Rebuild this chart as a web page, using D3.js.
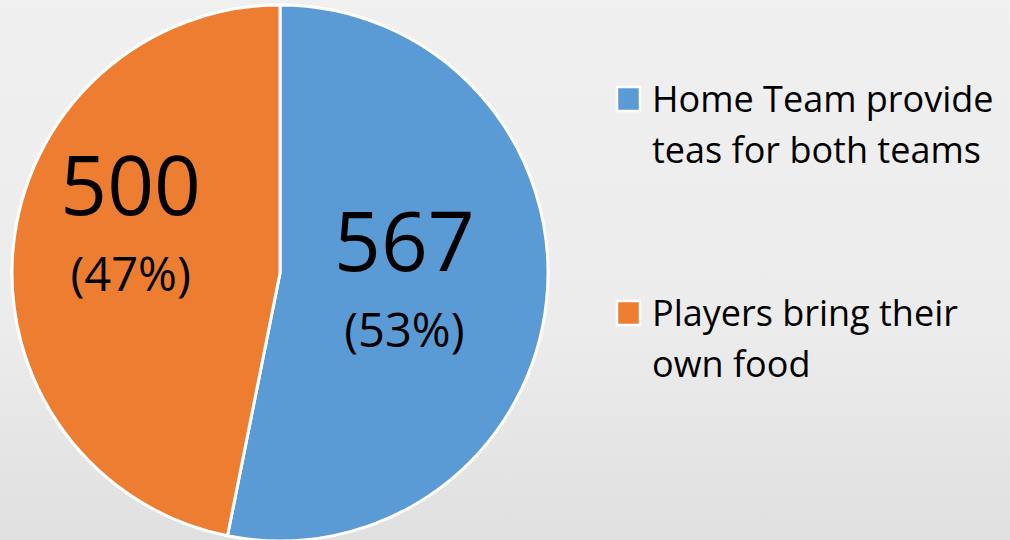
<!DOCTYPE html>
<html>
<head>
<meta charset="utf-8">
<script src="https://cdn.jsdelivr.net/npm/d3@7"></script>
<style>
  html, body { margin: 0; padding: 0; }
  body { width: 1010px; height: 540px; overflow: hidden; }
  svg { display: block; font-family: "Open Sans", "Noto Sans", sans-serif; }
</style>
</head>
<body>
<svg id="chart" width="1010" height="540"></svg>
<script>
// ---- data ----
const categories = ["Home Team provide teas for both teams", "Players bring their own food"];
const legendLines = [["Home Team provide", "teas for both teams"], ["Players bring their", "own food"]];
const values = [567, 500];
const colors = ["#5B9BD5", "#ED7D31"];

// ---- layout ----
const W = 1010, H = 540;
const cx = 280, cy = 273, R = 268;
const labelR = 122;
const labelOffsets = [[3, -4], [-28, -36]];

const svg = d3.select("#chart");

// background
const defs = svg.append("defs");
const bg = defs.append("linearGradient").attr("id", "bg").attr("x1", 0).attr("y1", 0).attr("x2", 0).attr("y2", 1);
bg.append("stop").attr("offset", "0%").attr("stop-color", "#f0f0f0");
bg.append("stop").attr("offset", "60%").attr("stop-color", "#ececec");
bg.append("stop").attr("offset", "100%").attr("stop-color", "#e0e0e0");
svg.append("rect").attr("width", W).attr("height", H).attr("fill", "url(#bg)");

const total = d3.sum(values);
const pie = d3.pie().sort(null).value(d => d)(values);
const arc = d3.arc().innerRadius(0).outerRadius(R);
const labelArc = d3.arc().innerRadius(labelR).outerRadius(labelR);

const g = svg.append("g").attr("transform", `translate(${cx},${cy})`);
g.selectAll("path.slice").data(pie).join("path")
  .attr("class", "slice")
  .attr("d", arc)
  .attr("fill", (d, i) => colors[i])
  .attr("stroke", "#ffffff")
  .attr("stroke-width", 3)
  .attr("stroke-linejoin", "round");

const fmtPct = v => "(" + Math.round(v / total * 100) + "%)";
const lab = g.selectAll("g.lab").data(pie).join("g")
  .attr("class", "lab")
  .attr("transform", (d, i) => {
    const c = labelArc.centroid(d);
    return `translate(${c[0] + labelOffsets[i][0]},${c[1] + labelOffsets[i][1]})`;
  });
lab.append("text")
  .attr("text-anchor", "middle")
  .attr("y", -10)
  .attr("font-size", 82)
  .attr("fill", "#000")
  .text(d => d.value);
lab.append("text")
  .attr("text-anchor", "middle")
  .attr("y", 66)
  .attr("font-size", 47)
  .attr("fill", "#000")
  .text(d => fmtPct(d.value));

// legend
const legTop = [112, 326];
const leg = svg.append("g");
categories.forEach((c, i) => {
  const lg = leg.append("g").attr("transform", `translate(0,${legTop[i]})`);
  lg.append("rect")
    .attr("x", 617).attr("y", -25)
    .attr("width", 23).attr("height", 24)
    .attr("fill", colors[i])
    .attr("stroke", "#ffffff").attr("stroke-width", 2.5);
  legendLines[i].forEach((line, j) => {
    lg.append("text")
      .attr("x", 652).attr("y", j * 51)
      .attr("font-size", 36)
      .attr("fill", "#000")
      .text(line);
  });
});
</script>
</body>
</html>
